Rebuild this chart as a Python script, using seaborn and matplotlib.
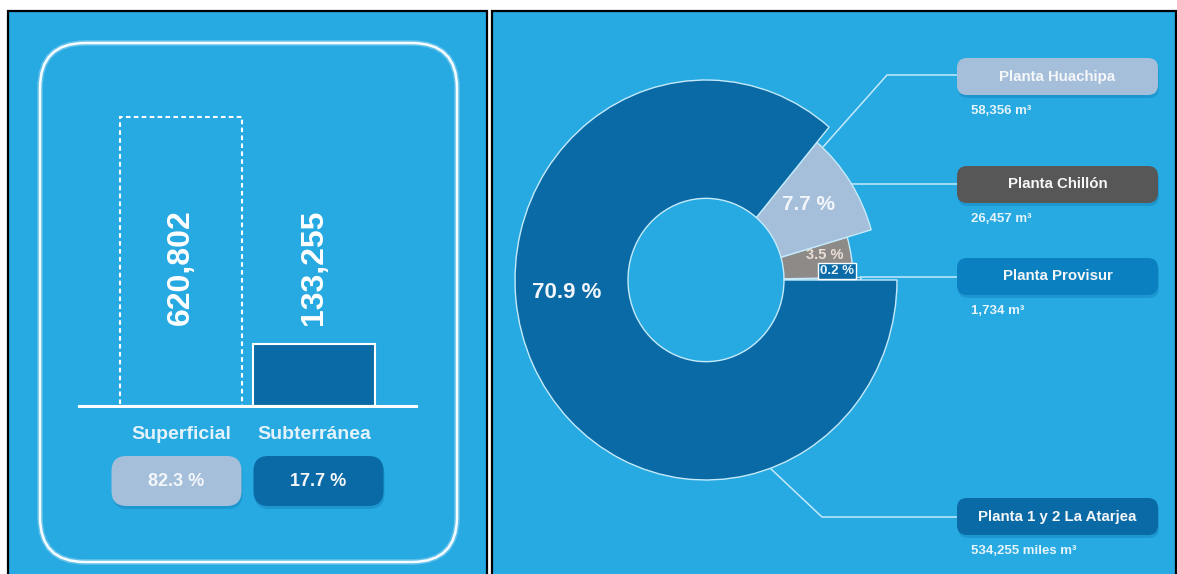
import numpy as np
import matplotlib
matplotlib.use("Agg")
import matplotlib.pyplot as plt
from matplotlib.patches import FancyBboxPatch, Rectangle
import seaborn as sns

# ---------------- data ----------------
source_categories = ["Superficial", "Subterránea"]
source_values = [620802, 133255]

plants = ["Planta 1 y 2 La Atarjea", "Planta Huachipa", "Planta Chillón", "Planta Provisur"]
plant_shares = [70.9, 7.7, 3.5, 0.2]
plant_volumes = ["534,255 miles m³", "58,356 m³", "26,457 m³", "1,734 m³"]

# ---------------- style ----------------
sns.set_theme(style="white")
plt.rcParams["font.family"] = ["Liberation Sans", "DejaVu Sans"]
plt.rcParams["font.weight"] = "bold"

BG = "#27a9e1"
DARK = "#0a6aa6"
LIGHT = "#a5bfdb"
GREY_W = "#8e8a88"
LINE = "#c4eafb"
W, H = 1177, 574

fig = plt.figure(figsize=(W / 100, H / 100), dpi=100, facecolor="white")


def fy(py):
    return 1 - py / H


# background layer (pixel coordinates, y downwards)
bg = fig.add_axes([0, 0, 1, 1], zorder=0)
bg.set_xlim(0, W)
bg.set_ylim(H, 0)
bg.axis("off")
for x0, x1 in [(8, 487), (492, 1176)]:
    bg.add_patch(Rectangle((x0, 11), x1 - x0, H - 11 + 5, facecolor=BG,
                           edgecolor="black", linewidth=1.6))
# rounded frame of the left panel
bg.add_patch(FancyBboxPatch((40, 43), 417, 519, boxstyle="round,pad=0,rounding_size=45",
                            facecolor="none", edgecolor="#bfe9fb", linewidth=4.0, alpha=0.4))
bg.add_patch(FancyBboxPatch((40, 43), 417, 519, boxstyle="round,pad=0,rounding_size=45",
                            facecolor="none", edgecolor="#f6fcff", linewidth=1.8))

# ---------------- left: bar chart ----------------
axb = fig.add_axes([79 / W, fy(406), (416 - 79) / W, (406 - 117) / H], zorder=1)
axb.set_facecolor("none")
sns.barplot(x=source_categories, y=source_values, hue=source_categories,
            palette=["#ffffff", DARK], dodge=False, width=0.917, legend=False, ax=axb)
axb.set_xlim(-0.767, 1.767)
axb.set_ylim(0, max(source_values))
bars = axb.patches
bars[0].set_facecolor("none")
bars[0].set_edgecolor("white")
bars[0].set_linestyle((0, (2.2, 1.6)))
bars[0].set_linewidth(1.5)
bars[1].set_facecolor(DARK)
bars[1].set_edgecolor("white")
bars[1].set_linewidth(1.5)
for b in bars:
    b.set_clip_on(False)
for s in ["top", "left", "right"]:
    axb.spines[s].set_visible(False)
axb.spines["bottom"].set_color("white")
axb.spines["bottom"].set_linewidth(2.2)
axb.set_yticks([])
axb.set_xlabel("")
axb.set_ylabel("")
axb.tick_params(axis="x", length=0, pad=14.5, labelsize=14, labelcolor="#e4f3fb")
for t in axb.get_xticklabels():
    t.set_fontweight("bold")
for i, v in enumerate(source_values):
    axb.text(i, 0.481, f"{v:,}", transform=axb.get_xaxis_transform(), rotation=90,
             ha="center", va="center", fontsize=23, fontweight="bold", color="white")

# ---------------- right: donut ----------------
cx, cy, RMAX, STRETCH = 706, 280, 200, 1.047
axp = fig.add_axes([(cx - RMAX) / W, fy(cy + RMAX * STRETCH), 2 * RMAX / W,
                    2 * RMAX * STRETCH / H], projection="polar", zorder=2)
axp.set_ylim(0, RMAX)
inner = 78
outer = {"Planta 1 y 2 La Atarjea": 191, "Planta Huachipa": 172,
         "Planta Chillón": 147, "Planta Provisur": 155}
wedge_colors = {"Planta 1 y 2 La Atarjea": DARK, "Planta Huachipa": LIGHT,
                "Planta Chillón": GREY_W, "Planta Provisur": DARK}
order = [3, 2, 1, 0]  # counter-clockwise from east
total = sum(plant_shares)
start = 0.0
for k in order:
    span = plant_shares[k] / total * 2 * np.pi
    name = plants[k]
    axp.bar(start, outer[name] - inner, width=span, bottom=inner, align="edge",
            color=wedge_colors[name], edgecolor=LINE, linewidth=1.0)
    start += span
axp.axis("off")
axp.set_aspect("auto")

# ---------------- foreground annotations ----------------
fg = fig.add_axes([0, 0, 1, 1], zorder=3)
fg.set_xlim(0, W)
fg.set_ylim(H, 0)
fg.axis("off")
fg.set_facecolor("none")


def pill(x, y, w, h, color, r, shadow=True):
    if shadow:
        fg.add_patch(FancyBboxPatch((x + 1, y + 3), w, h,
                                    boxstyle=f"round,pad=0,rounding_size={r}",
                                    facecolor="#1586bf", edgecolor="none", alpha=0.5))
    fg.add_patch(FancyBboxPatch((x, y), w, h, boxstyle=f"round,pad=0,rounding_size={r}",
                                facecolor=color, edgecolor="none"))


# percentage pills under the bars
tot_src = sum(source_values)
pill_colors = [LIGHT, DARK]
for i, v in enumerate(source_values):
    px = axb.transData.transform((i, 0))[0] + (i - 0.5) * 9
    pill(px - 65, 456, 130, 50, pill_colors[i], 15)
    fg.text(px, 481, f"{v / tot_src * 100:.1f} %", ha="center", va="center",
            fontsize=13, fontweight="bold", color="#f4f7fa")

# donut labels
fg.text(567, 293, f"{plant_shares[0]} %", ha="center", va="center", fontsize=16,
        fontweight="bold", color="#f2f6fa")
fg.text(808, 204, f"{plant_shares[1]} %", ha="center", va="center", fontsize=15,
        fontweight="bold", color="#f2f6fa")
fg.text(825, 255, f"{plant_shares[2]} %", ha="center", va="center", fontsize=10.5,
        fontweight="bold", color="#eadfd6")
fg.text(837, 271, f"{plant_shares[3]} %", ha="center", va="center", fontsize=9.5,
        fontweight="bold", color="#e8f4fb",
        bbox=dict(boxstyle="square,pad=0.12", facecolor=DARK, edgecolor="white", linewidth=1))

# leader lines
leaders = {
    "Planta Huachipa": [(823, 147), (887, 75), (957, 75)],
    "Planta Chillón": [(852, 184), (957, 184)],
    "Planta Provisur": [(860, 277), (957, 277)],
    "Planta 1 y 2 La Atarjea": [(770, 468), (822, 517), (957, 517)],
}
for pts in leaders.values():
    xs, ys = zip(*pts)
    fg.plot(xs, ys, color=LINE, linewidth=1.1, solid_capstyle="butt")

# label boxes
box_top = {"Planta Huachipa": 58, "Planta Chillón": 166, "Planta Provisur": 258,
           "Planta 1 y 2 La Atarjea": 498}
box_color = {"Planta Huachipa": LIGHT, "Planta Chillón": "#575757",
             "Planta Provisur": "#0b80c0", "Planta 1 y 2 La Atarjea": DARK}
for name, vol in zip(plants, plant_volumes):
    top = box_top[name]
    pill(957, top, 201, 37, box_color[name], 10)
    fg.text(1057.5, top + 18.5, name, ha="center", va="center", fontsize=10.8,
            fontweight="bold", color="#f5f7f9")
    fg.text(971, top + 53, vol, ha="left", va="center", fontsize=9.5,
            fontweight="bold", color="#e6f4fc")

fig.savefig("out.png", dpi=100, facecolor="white")
